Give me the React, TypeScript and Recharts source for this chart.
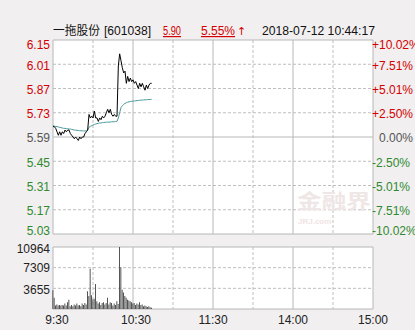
import React from 'react';
import { ComposedChart, Line, Bar, XAxis, YAxis, CartesianGrid } from 'recharts';

// ---- data ----
const stockName = '一拖股份';
const stockCode = '[601038]';
const lastPrice = '5.90';
const changePct = '5.55%';
const timestamp = '2018-07-12 10:44:17';
const prevClose = 5.59;

const prices = [
  5.65, 5.65, 5.64, 5.62, 5.60, 5.62, 5.60, 5.62, 5.61, 5.63,
  5.62, 5.63, 5.63, 5.61, 5.60, 5.59, 5.58, 5.59, 5.58, 5.57,
  5.59, 5.58, 5.59, 5.59, 5.61, 5.62, 5.63, 5.72, 5.70, 5.71,
  5.70, 5.74, 5.70, 5.70, 5.68, 5.70, 5.69, 5.71, 5.70, 5.71,
  5.73, 5.75, 5.73, 5.75, 5.72, 5.71, 5.72, 5.71, 5.71, 6.00,
  6.07, 6.03, 5.99, 5.96, 5.97, 5.90, 5.94, 5.91, 5.93, 5.91,
  5.92, 5.90, 5.91, 5.89, 5.87, 5.90, 5.88, 5.90, 5.88, 5.86,
  5.89, 5.87, 5.89, 5.90, 5.90,
];

const avgPrices = [
  5.655, 5.653, 5.651, 5.650, 5.648, 5.646, 5.644, 5.642, 5.640, 5.640,
  5.638, 5.638, 5.636, 5.636, 5.634, 5.632, 5.630, 5.630, 5.628, 5.628,
  5.626, 5.626, 5.626, 5.625, 5.625, 5.625, 5.630, 5.646, 5.651, 5.655,
  5.659, 5.663, 5.665, 5.667, 5.669, 5.671, 5.671, 5.673, 5.673, 5.675,
  5.675, 5.676, 5.676, 5.676, 5.678, 5.678, 5.678, 5.680, 5.680, 5.700,
  5.730, 5.760, 5.770, 5.778, 5.784, 5.788, 5.791, 5.793, 5.795, 5.796,
  5.797, 5.798, 5.799, 5.800, 5.801, 5.802, 5.803, 5.803, 5.804, 5.805,
  5.805, 5.806, 5.806, 5.807, 5.807,
];

const volumes = [
  3300, 1990, 600, 780, 600, 720, 600, 720, 600, 960,
  600, 1200, 1620, 480, 720, 480, 780, 600, 960, 600,
  720, 480, 960, 720, 1080, 780, 3130, 2290, 7110, 2410,
  1690, 1810, 4400, 1390, 960, 1200, 720, 1080, 1200, 780,
  1080, 1990, 780, 1200, 1080, 600, 960, 720, 1390, 880,
  10964, 7400, 3400, 2900, 2300, 1990, 1630, 1500, 1390, 1200,
  960, 1080, 720, 960, 780, 1200, 720, 780, 480, 600,
  480, 360, 480, 300, 240,
];

const priceTicks = [5.03, 5.17, 5.31, 5.45, 5.59, 5.73, 5.87, 6.01, 6.15];
const pctLabels = ['-10.02%', '-7.51%', '-5.01%', '-2.50%', '0.00%', '+2.50%', '+5.01%', '+7.51%', '+10.02%'];
const timeTicks = [0, 60, 120, 180, 240];
const timeLabels = ['9:30', '10:30', '11:30', '14:00', '15:00'];
const volTicks = [3655, 7309, 10964];

const priceData = prices.map((p, i) => ({ t: i, p, a: avgPrices[i] }));
const volData = volumes.map((v, i) => ({ t: i, v }));

// ---- styles ----
const RED = '#d40000';
const GREEN = '#2f8a2f';
const GRAY = '#555555';
const BG = '#f1eff0';
const SOLID = '#b8b8b8';
const DASH = '#bfbfbf';
const FONT = '"Liberation Sans", Arial, sans-serif';

const colorFor = (v: number) => (v > prevClose + 1e-9 ? RED : v < prevClose - 1e-9 ? GREEN : GRAY);
const tickShift = (i: number) => (i === priceTicks.length - 1 ? 5 : i === 0 ? -3 : 1);

const LeftPriceTick = (props: any) => {
  const { x, y, payload } = props;
  const v = payload.value as number;
  const i = priceTicks.indexOf(v);
  return (
    <text x={x} y={y + tickShift(i)} dy="0.355em" textAnchor="end" fill={colorFor(v)} fontSize={12} fontFamily={FONT}>
      {v.toFixed(2)}
    </text>
  );
};

const RightPctTick = (props: any) => {
  const { x, y, payload } = props;
  const v = payload.value as number;
  const i = priceTicks.indexOf(v);
  const label = pctLabels[i];
  const signed = label.startsWith('+') || label.startsWith('-');
  return (
    <text x={x + (signed ? -1 : 6)} y={y + tickShift(i)} dy="0.355em" textAnchor="start" fill={colorFor(v)} fontSize={12} fontFamily={FONT}>
      {label}
    </text>
  );
};

const VolTick = (props: any) => {
  const { x, y, payload } = props;
  const v = payload.value as number;
  const i = volTicks.indexOf(v);
  const shift = i === volTicks.length - 1 ? 2 : i === 0 ? 1 : 0;
  return (
    <text x={x} y={y + shift} dy="0.355em" textAnchor="end" fill="#222" fontSize={12} fontFamily={FONT}>
      {String(v)}
    </text>
  );
};

const TimeTick = (props: any) => {
  const { x, y, payload } = props;
  const i = timeTicks.indexOf(payload.value);
  const shift = i === 0 ? 4 : i === 1 ? 3 : 0;
  return (
    <text x={x + shift} y={y} dy="0.71em" textAnchor="middle" fill="#222" fontSize={12} fontFamily={FONT}>
      {timeLabels[i]}
    </text>
  );
};

export default function App() {
  return (
    <div style={{ position: 'fixed', left: 0, top: 0, width: 415, height: 330, background: BG, overflow: 'hidden' }}>
      {/* header */}
      <svg width={415} height={40} style={{ position: 'absolute', left: 0, top: 0 }}>
        <text x={53} y={35} fontSize={12} fontFamily='"Noto Sans CJK SC", sans-serif' fill="#111" textLength={47} lengthAdjust="spacingAndGlyphs">{stockName}</text>
        <text x={104} y={35} fontSize={12} fontFamily={FONT} fill="#111" textLength={47} lengthAdjust="spacingAndGlyphs">{stockCode}</text>
        <text x={163} y={35} fontSize={12} fontFamily={FONT} fill={RED} textLength={18} lengthAdjust="spacingAndGlyphs" style={{ textDecoration: 'underline' }}>{lastPrice}</text>
        <text x={201} y={35} fontSize={12} fontFamily={FONT} fill={RED}>
          <tspan style={{ textDecoration: 'underline' }}>{changePct}</tspan>
          <tspan dx={2} fontFamily='"DejaVu Sans", sans-serif' fontSize={11}>↑</tspan>
        </text>
        <text x={262} y={35} fontSize={12} fontFamily={FONT} fill="#111" textLength={113} lengthAdjust="spacingAndGlyphs">{timestamp}</text>
      </svg>

      {/* price chart */}
      <div style={{ position: 'absolute', left: 0, top: 0 }}>
        <ComposedChart width={415} height={240} data={priceData} margin={{ top: 40, right: 0, bottom: 6, left: 0 }}>
          <XAxis dataKey="t" type="number" domain={[0, 240]} ticks={timeTicks} hide />
          <YAxis yAxisId="l" orientation="left" width={53} domain={[5.03, 6.15]} ticks={priceTicks} interval={0}
            axisLine={false} tickLine={false} tickSize={0} tickMargin={3} tick={<LeftPriceTick />} allowDataOverflow />
          <YAxis yAxisId="r" orientation="right" width={42} domain={[5.03, 6.15]} ticks={priceTicks} interval={0}
            axisLine={false} tickLine={false} tickSize={0} tickMargin={0} tick={<RightPctTick />} allowDataOverflow />
          <CartesianGrid yAxisId="l" fill="#ffffff" fillOpacity={1} stroke={DASH} strokeDasharray="3 2"
            horizontalValues={[5.17, 5.31, 5.45, 5.73, 5.87, 6.01]} verticalValues={[30, 90, 150, 210]} />
          <CartesianGrid yAxisId="l" stroke={SOLID}
            horizontalValues={[5.03, 5.59, 6.15]} verticalValues={[0, 60, 120, 180, 240]} />
          <Line yAxisId="l" type="linear" dataKey="a" stroke="#4a9a9a" strokeWidth={1} dot={false} isAnimationActive={false} />
          <Line yAxisId="l" type="linear" dataKey="p" stroke="#000000" strokeWidth={1} dot={false} isAnimationActive={false} />
        </ComposedChart>
      </div>

      {/* watermark */}
      <svg width={415} height={330} style={{ position: 'absolute', left: 0, top: 0, pointerEvents: 'none' }}>
        <text x={297} y={209} fontSize={20} fontWeight="bold" fontFamily='"Noto Sans CJK SC", sans-serif' fill="#efe6e6" textLength={74} lengthAdjust="spacingAndGlyphs">金融界</text>
        <text x={298} y={224} fontSize={8} fontWeight="bold" fontFamily={FONT} fill="#f0e4e4">JRJ.com</text>
      </svg>

      {/* volume chart */}
      <div style={{ position: 'absolute', left: 0, top: 240 }}>
        <ComposedChart width={415} height={90} data={volData} margin={{ top: 7, right: 42, bottom: 0, left: 0 }}>
          <XAxis dataKey="t" type="number" domain={[0, 240]} ticks={timeTicks} interval={0} height={21}
            axisLine={false} tickLine={false} tickSize={0} tickMargin={6} tick={<TimeTick />} />
          <YAxis width={53} domain={[0, 10964]} ticks={volTicks} interval={0}
            axisLine={false} tickLine={false} tickSize={0} tickMargin={3} tick={<VolTick />} allowDataOverflow />
          <CartesianGrid fill="#ffffff" fillOpacity={1} stroke={DASH} strokeDasharray="3 2"
            horizontalValues={[3655, 7309]} verticalValues={[30, 90, 150, 210]} />
          <CartesianGrid stroke={SOLID} horizontalValues={[0, 10964]} verticalValues={[0, 60, 120, 180, 240]} />
          <Bar dataKey="v" fill="#555555" barSize={1} isAnimationActive={false} />
        </ComposedChart>
      </div>
    </div>
  );
}
